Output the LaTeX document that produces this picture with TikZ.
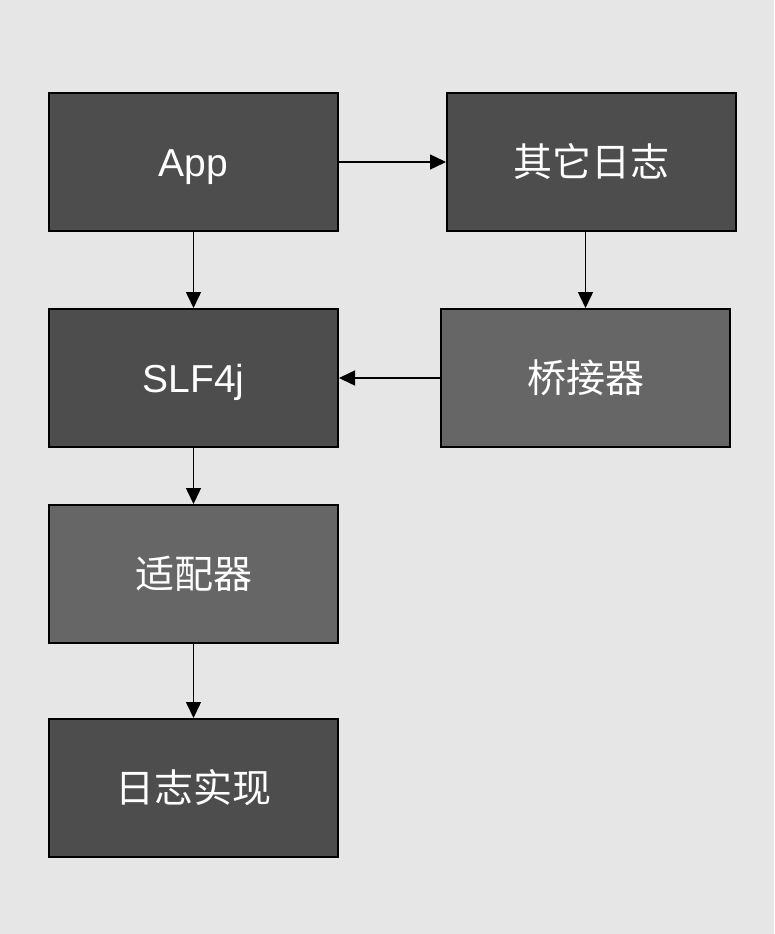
\documentclass[tikz,border=0pt]{standalone}
\usepackage{fontspec}
\setmainfont{Liberation Sans}
\newfontfamily\cjk{Noto Sans CJK SC}
\usetikzlibrary{arrows.meta}
\definecolor{bggray}{HTML}{E6E6E6}
\definecolor{darkbox}{HTML}{4D4D4D}
\definecolor{lightbox}{HTML}{666666}

\tikzset{
  block/.style={draw=black,line width=2pt,fill=darkbox,text=white,
    minimum width=289pt,minimum height=138pt,inner sep=0pt,
    text height=38pt,text depth=10pt,
    font=\fontsize{39}{46}\selectfont},
  lightblock/.style={block,fill=lightbox},
  flow/.style={line width=1.5pt,-{Triangle[length=16pt,width=15pt]}}
}

\begin{document}
\begin{tikzpicture}[x=1pt,y=-1pt]
      \fill[bggray] (0,0) rectangle (774,934);
      \useasboundingbox (0,0) rectangle (774,934);

      \node[block] (app) at (193.5,162) {App};
      \node[block] (qita) at (591.5,162) {\cjk 其它日志};
      \node[block] (slf) at (193.5,378) {SLF4j};
      \node[lightblock] (qiao) at (585.5,378) {\cjk 桥接器};
      \node[lightblock] (shipei) at (193.5,574) {\cjk 适配器};
      \node[block] (shixian) at (193.5,788) {\cjk 日志实现};

      \draw[flow] (app.east) -- (qita.west);
      \draw[flow] (app.south) -- (slf.north);
      \draw[flow] (qita.south -| qiao.north) -- (qiao.north);
      \draw[flow] (qiao.west) -- (slf.east);
      \draw[flow] (slf.south) -- (shipei.north);
      \draw[flow] (shipei.south) -- (shixian.north);
    \end{tikzpicture}
\end{document}
